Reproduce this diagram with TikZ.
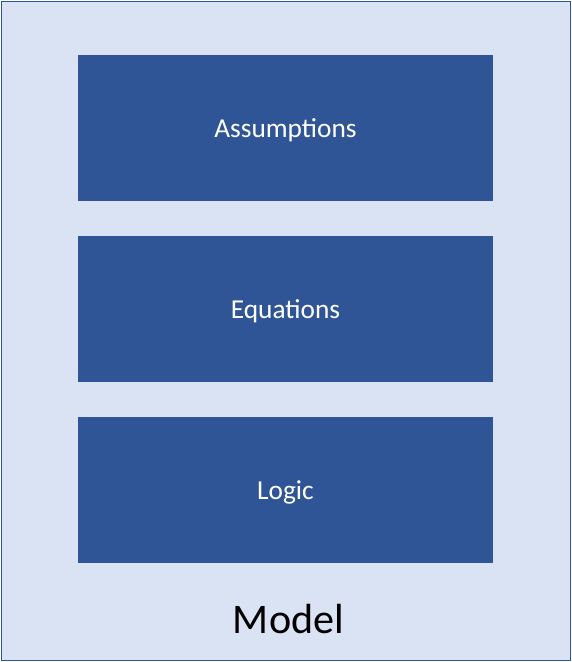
\documentclass[tikz,border=0pt]{standalone}
\usepackage{fontspec}
\setmainfont{Carlito}
\definecolor{rahmen}{HTML}{2F5597}
\definecolor{grund}{HTML}{DAE3F3}
\definecolor{kasten}{HTML}{2F5597}
\begin{document}
\begin{tikzpicture}[
      x=0.75pt, y=-0.75pt,
      block/.style={rectangle, fill=kasten, draw=none, inner sep=0pt,
        minimum width=311.25pt, minimum height=109.5pt,
        text height=17.5pt, text depth=4pt,
        text=white, font=\fontsize{20.5}{24}\selectfont},
      rahmenbox/.style={rectangle, fill=grund, draw=rahmen, line width=1.1pt, inner sep=0pt,
        minimum width=426.75pt, minimum height=494.25pt}
    ]
      \useasboundingbox (0,0) rectangle (572,662);
      \node[rahmenbox] (model) at (286,331) {};
      \node[block] (assume) at (285.5,128) {Assumptions};
      \node[block] (equat) at (285.5,309) {Equations};
      \node[block] (logic) at (285.5,490) {Logic};
      \node[font=\fontsize{31.6}{36}\selectfont] (label) at (288.5,619) {Model};
    \end{tikzpicture}
\end{document}
